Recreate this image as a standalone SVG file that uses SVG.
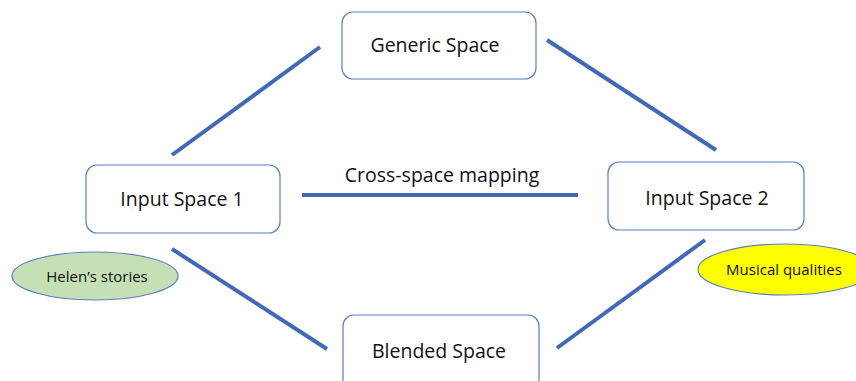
<svg xmlns="http://www.w3.org/2000/svg" width="856" height="381" viewBox="0 0 856 381">
<style>
.box{fill:#fff;stroke:#5b7fc0;stroke-width:1.2}
.lbl{font-family:"Open Sans","Liberation Sans",sans-serif;font-size:19.5px;fill:#111;text-anchor:middle}
.small{font-family:"Open Sans","Liberation Sans",sans-serif;font-size:15px;fill:#111;text-anchor:middle}
.conn{stroke:#4169b8;stroke-width:4;fill:none}
.ell{stroke:#5b7fc0;stroke-width:1.2}
</style>
<rect width="856" height="381" fill="#fff"/>
<g id="connectors">
<line class="conn" x1="172" y1="155" x2="320" y2="47"/>
<line class="conn" x1="547" y1="40" x2="716" y2="150"/>
<line class="conn" x1="302" y1="195" x2="578" y2="195"/>
<line class="conn" x1="172" y1="249" x2="327" y2="349"/>
<line class="conn" x1="705" y1="240" x2="557" y2="348"/>
<text class="lbl" x="442" y="182">Cross-space mapping</text>
</g>
<g id="generic">
<rect class="box" x="342" y="12" width="194" height="67" rx="11"/>
<text class="lbl" x="435" y="52">Generic Space</text>
</g>
<g id="input1">
<rect class="box" x="86" y="165" width="194" height="68" rx="11"/>
<text class="lbl" x="182" y="206">Input Space 1</text>
</g>
<g id="input2">
<rect class="box" x="608" y="162" width="196" height="68" rx="11"/>
<text class="lbl" x="707" y="205">Input Space 2</text>
</g>
<g id="blended">
<rect class="box" x="343" y="315" width="196" height="80" rx="11"/>
<text class="lbl" x="439" y="358">Blended Space</text>
</g>
<g id="helen">
<ellipse class="ell" cx="95" cy="276" rx="83" ry="24" fill="#c5e0b4"/>
<text class="small" x="97" y="282">Helen’s stories</text>
</g>
<g id="musical">
<ellipse class="ell" cx="785" cy="269.5" rx="87" ry="25.5" fill="#ffff00"/>
<text class="small" x="784" y="275">Musical qualities</text>
</g>
</svg>
